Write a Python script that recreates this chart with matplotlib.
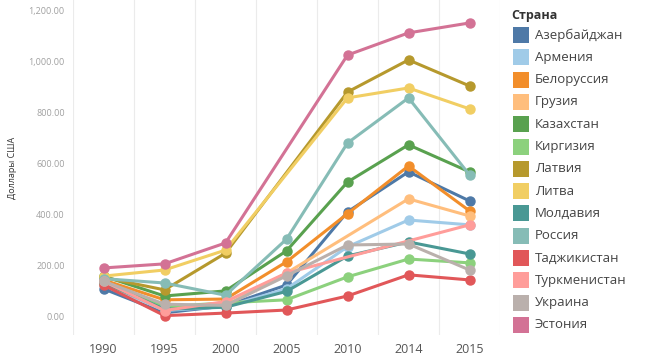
import numpy as np
import matplotlib
matplotlib.use("Agg")
from matplotlib import pyplot as plt
from matplotlib.patches import Rectangle

plt.rcParams['font.family'] = ['Open Sans', 'DejaVu Sans']

years = ['1990', '1995', '2000', '2005', '2010', '2014', '2015']
countries = ['Азербайджан', 'Армения', 'Белоруссия', 'Грузия', 'Казахстан', 'Киргизия',
             'Латвия', 'Литва', 'Молдавия', 'Россия', 'Таджикистан', 'Туркменистан',
             'Украина', 'Эстония']
colors = ['#4E79A7', '#A0CBE8', '#F28E2B', '#FFBE7D', '#59A14F', '#8CD17D',
          '#B6992D', '#F1CE63', '#499894', '#86BCB6', '#E15759', '#FF9D9A',
          '#BAB0AC', '#D37295']

nan = np.nan
azerbaijan   = [110, 16, 43, 125, 412, 569, 455]
armenia      = [130, 25, 40, 110, 275, 380, 361]
belarus      = [145, 67, 70, 216, 405, 592, 416]
georgia      = [140, 35, 45, 172, nan, 463, 396]
kazakhstan   = [160, 82, 102, 259, 529, 675, 569]
kyrgyzstan   = [130, 40, 55, 67, 157, 227, 212]
latvia       = [155, 106, 250, nan, 882, 1008, 906]
lithuania    = [160, 184, 262, nan, 859, 898, 816]
moldova      = [135, 30, 38, 100, 239, 294, 247]
russia       = [150, 133, 85, 305, 682, 859, 557]
tajikistan   = [125, 5, 15, 27, 82, 165, 145]
turkmenistan = [140, 25, 60, 172, nan, nan, 361]
ukraine      = [140, 50, 45, 161, 282, 286, 184]
estonia      = [192, 208, 290, nan, 1027, 1114, 1153]

series = [azerbaijan, armenia, belarus, georgia, kazakhstan, kyrgyzstan, latvia,
          lithuania, moldova, russia, tajikistan, turkmenistan, ukraine, estonia]

fig = plt.figure(figsize=(6.5, 3.58), dpi=100)
ax = fig.add_axes([73/650, 23/358, 427/650, 335/358])

x = np.arange(len(years))
for name, vals, c in zip(countries, series, colors):
    v = np.array(vals, dtype=float)
    ok = ~np.isnan(v)
    ax.plot(x[ok], v[ok], color=c, lw=2.2, marker='o', ms=6.5, solid_capstyle='round')

ax.set_xlim(-0.5, 6.5)
ax.set_ylim(-71, 1243)
ax.set_xticks(x)
ax.set_xticklabels(years, fontsize=9, color='#555555')
yt = [0, 200, 400, 600, 800, 1000, 1200]
ax.set_yticks(yt)
ax.set_yticklabels(['{:,.2f}'.format(t) for t in yt], fontsize=6.5, color='#a0a0a0')
ax.tick_params(length=0, pad=6)
for b in np.arange(-0.5, 7, 1):
    ax.axvline(b, color='#ebebeb', lw=0.8, zorder=0)
for s in ax.spines.values():
    s.set_visible(False)
ax.set_ylabel('Доллары США', fontsize=6.5, color='#333333', labelpad=8)

# legend
fig.text(511/650, 1 - 15/358, 'Страна', fontsize=9, fontweight='bold', color='#333333', va='center')
for i, (name, c) in enumerate(zip(countries, colors)):
    yc = 35 + i * 22.3
    fig.add_artist(Rectangle((513/650, 1 - (yc + 8)/358), 16/650, 16/358,
                             transform=fig.transFigure, color=c, lw=0))
    fig.text(535/650, 1 - yc/358, name, fontsize=9.5, color='#444444', va='center')

fig.savefig('out.png', dpi=100)
